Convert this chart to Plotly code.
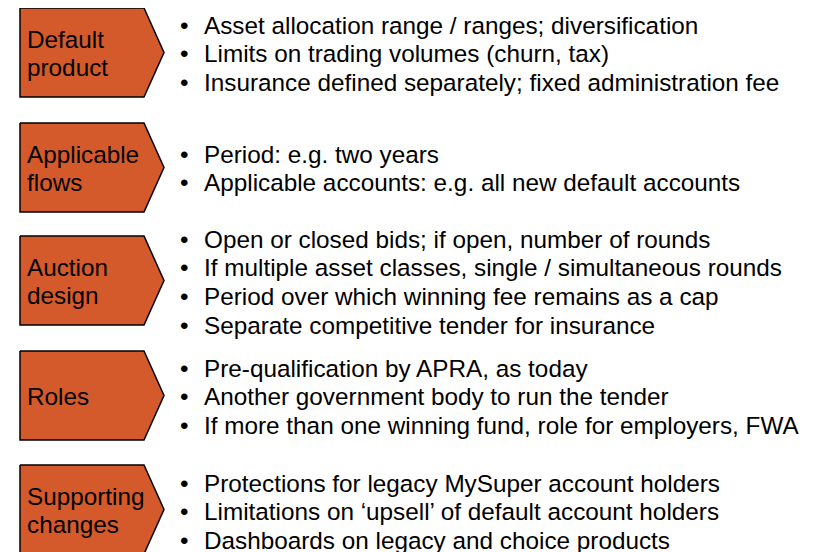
import plotly.graph_objects as go

labels = [["Default", "product"], ["Applicable", "flows"], ["Auction", "design"],
          ["Roles"], ["Supporting", "changes"]]
bullets = [
    ["Asset allocation range / ranges; diversification",
     "Limits on trading volumes (churn, tax)",
     "Insurance defined separately; fixed administration fee"],
    ["Period: e.g. two years",
     "Applicable accounts: e.g. all new default accounts"],
    ["Open or closed bids; if open, number of rounds",
     "If multiple asset classes, single / simultaneous rounds",
     "Period over which winning fee remains as a cap",
     "Separate competitive tender for insurance"],
    ["Pre-qualification by APRA, as today",
     "Another government body to run the tender",
     "If more than one winning fund, role for employers, FWA"],
    ["Protections for legacy MySuper account holders",
     "Limitations on \u2018upsell\u2019 of default account holders",
     "Dashboards on legacy and choice products"],
]

W, H = 814, 552
OFF = 8  # page body margin offset
box_tops = [8, 123, 236, 351, 465]
box_h = 89
x_left, x_shoulder, x_tip = 20, 144, 164
bullet_starts = [25, 154, 239, 368, 483]
line_gap = 28.7
label_gap = 28.5
FILL = "#D55A2B"
FONT = "Liberation Sans, Arial, sans-serif"
FS = 24.3

fig = go.Figure()
annotations = []
for i, lab in enumerate(labels):
    t = box_tops[i]
    b = t + box_h
    m = (t + b) / 2
    xs = [x_left, x_shoulder, x_tip, x_shoulder, x_left, x_left]
    ys = [t, t, m, b, b, t]
    fig.add_trace(go.Scatter(x=xs, y=ys, mode="lines", fill="toself",
                             fillcolor=FILL, line=dict(color="black", width=1.5),
                             hoverinfo="skip", showlegend=False))
    n = len(lab)
    for k, line in enumerate(lab):
        y = m + 1 + (k - (n - 1) / 2) * label_gap
        annotations.append(dict(x=25, y=y, text=line, showarrow=False, xanchor="left",
                                yanchor="middle", align="left",
                                font=dict(family=FONT, size=FS, color="black")))
    for j, txt in enumerate(bullets[i]):
        y = bullet_starts[i] + j * line_gap
        annotations.append(dict(x=178, y=y, text="\u2022", showarrow=False, xanchor="left",
                                yanchor="middle", font=dict(family=FONT, size=FS, color="black")))
        annotations.append(dict(x=202, y=y, text=txt, showarrow=False, xanchor="left",
                                yanchor="middle", font=dict(family=FONT, size=FS, color="black")))

fig.update_layout(
    width=W, height=H, margin=dict(l=0, r=0, t=0, b=0),
    paper_bgcolor="white", plot_bgcolor="white",
    xaxis=dict(range=[OFF, W + OFF], visible=False, fixedrange=True),
    yaxis=dict(range=[H + OFF, OFF], visible=False, fixedrange=True),
    annotations=annotations, showlegend=False,
)
fig.write_html("out.html")
